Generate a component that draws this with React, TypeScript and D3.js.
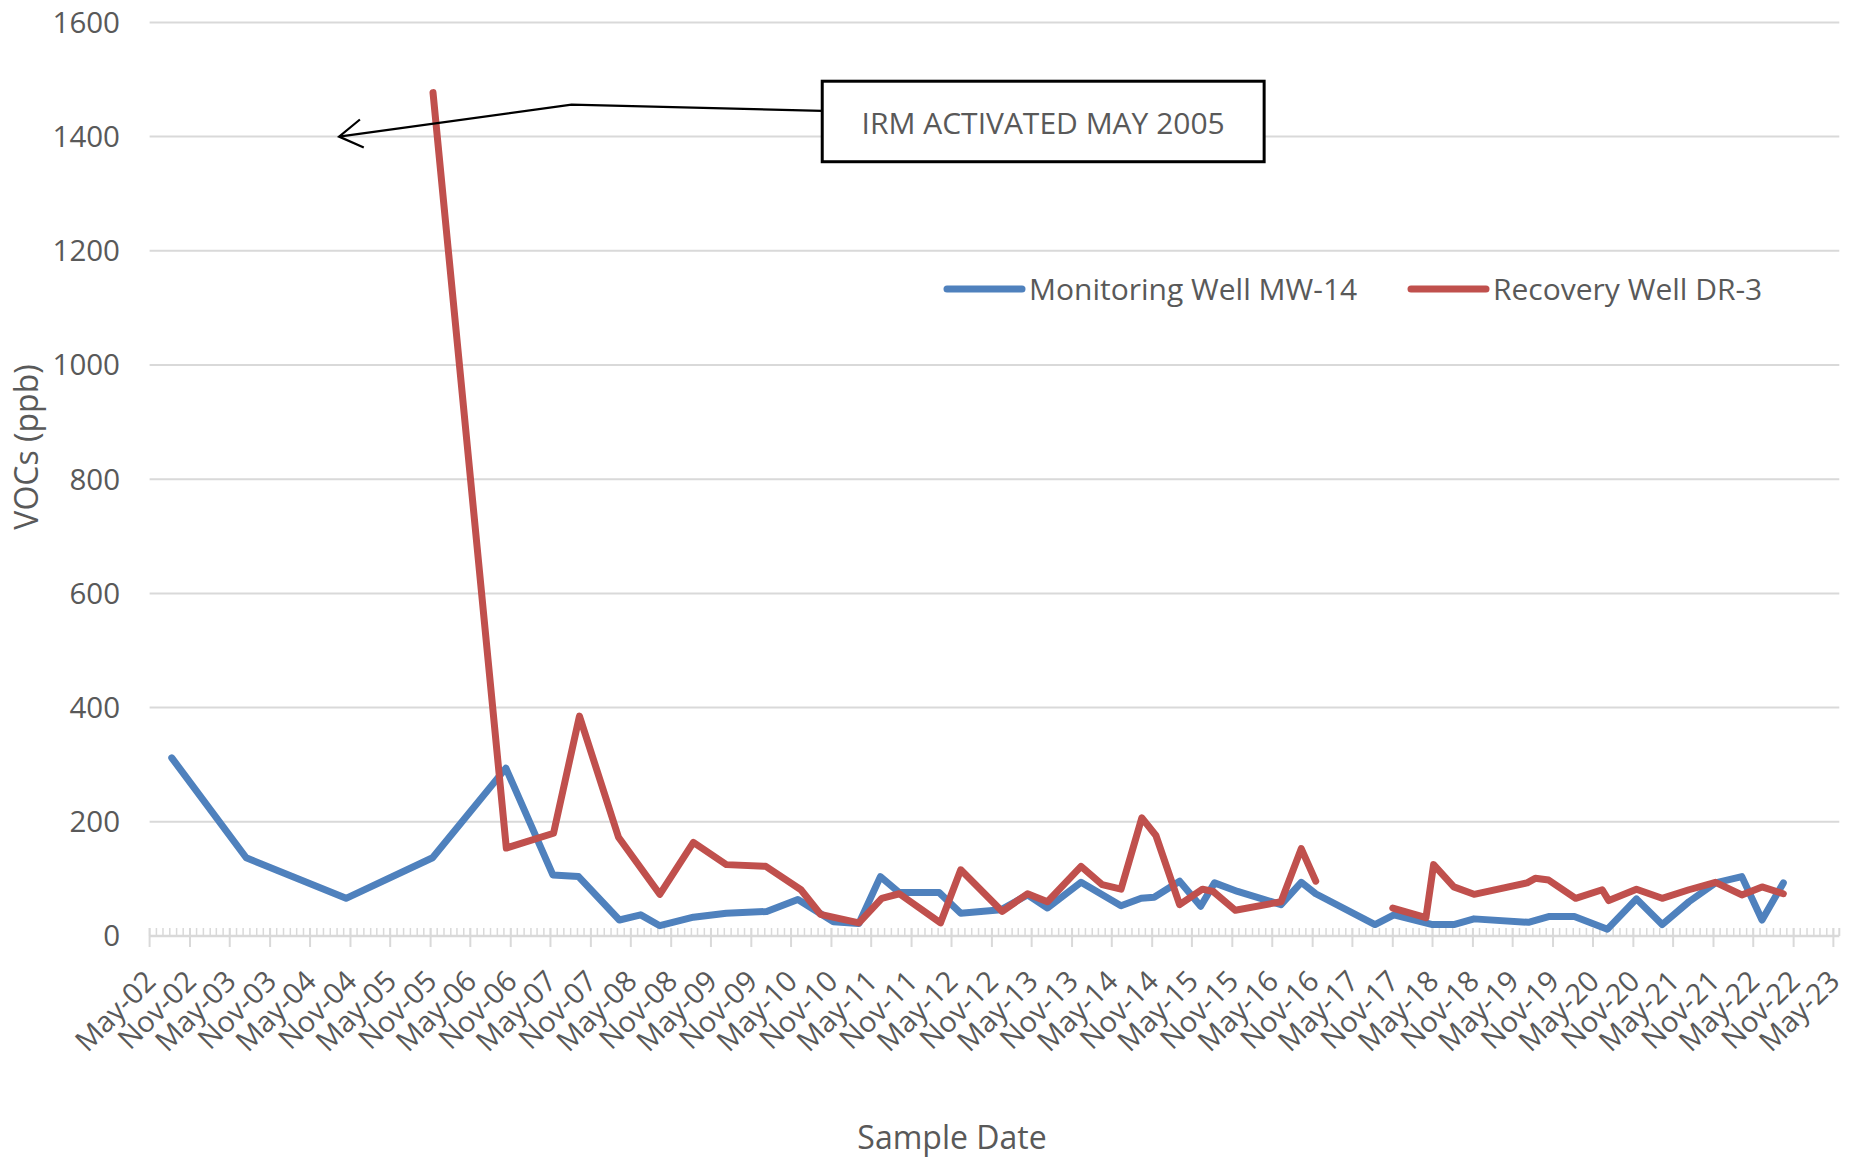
import React from "react";
import * as d3 from "d3";

// sample dates and VOC concentrations (ppb)
const mw14Dates = [
  "2002-08-10", "2003-07-15", "2004-10-12", "2005-11-10", "2006-10-10", "2007-05-12",
  "2007-09-06", "2008-03-10", "2008-06-15", "2008-09-10", "2009-02-10", "2009-07-10",
  "2010-01-10", "2010-06-01", "2010-11-10", "2011-03-06", "2011-06-12", "2011-09-06",
  "2012-03-06", "2012-06-12", "2012-12-12", "2013-04-12", "2013-07-12", "2013-12-12",
  "2014-06-12", "2014-09-12", "2014-11-10", "2015-03-06", "2015-06-10", "2015-08-12",
  "2015-11-25", "2016-06-10", "2016-09-10", "2016-11-15", "2017-08-12", "2017-11-06",
  "2018-05-01", "2018-08-06", "2018-11-06", "2019-07-12", "2019-10-12", "2020-02-06",
  "2020-07-06", "2020-11-15", "2021-03-12", "2021-07-12", "2021-11-10", "2022-03-10",
  "2022-06-10", "2022-09-15",
];
const mw14Values = [
  312, 137, 66, 137, 294, 107,
  104, 28, 37, 18, 33, 40,
  43, 64, 25, 22, 104, 76,
  76, 40, 46, 72, 49, 94,
  53, 66, 68, 96, 52, 93,
  78, 55, 94, 74, 20, 37,
  20, 20, 30, 24, 34, 34,
  12, 65, 20, 60, 93, 104,
  28, 93,
];

const dr3Dates = [
  "2005-11-12", "2006-10-12", "2007-05-15", "2007-09-10", "2008-03-06", "2008-09-10",
  "2009-02-10", "2009-07-10", "2010-01-06", "2010-06-15", "2010-09-12", "2011-03-06",
  "2011-06-18", "2011-09-06", "2012-03-12", "2012-06-12", "2012-12-18", "2013-04-12",
  "2013-07-12", "2013-12-12", "2014-03-18", "2014-06-12", "2014-09-15", "2014-11-18",
  "2015-03-06", "2015-06-18", "2015-08-06", "2015-11-15", "2016-06-10", "2016-09-10",
  "2016-11-15", "2017-05-01", "2017-11-01", "2018-04-01", "2018-05-06", "2018-08-06",
  "2018-11-06", "2019-07-06", "2019-08-12", "2019-10-12", "2020-02-12", "2020-06-12",
  "2020-07-12", "2020-11-15", "2021-03-12", "2021-07-12", "2021-11-10", "2022-03-10",
  "2022-06-10", "2022-09-15",
];
const dr3Values = [
  1477, 154, 180, 385, 173, 73,
  164, 125, 122, 81, 38, 23,
  66, 74, 23, 116, 43, 74,
  60, 122, 90, 82, 207, 176,
  55, 82, 78, 45, 60, 153,
  96, null, 49, 32, 125, 86,
  73, 93, 101, 98, 66, 81,
  62, 82, 66, 81, 94, 72,
  86, 74,
];

const seriesNames = ["Monitoring Well MW-14", "Recovery Well DR-3"];
const seriesColors = ["#4F81BD", "#C0504D"];
const yTicks = [0, 200, 400, 600, 800, 1000, 1200, 1400, 1600];

const annotationText = "IRM ACTIVATED MAY 2005";

const W = 1864;
const H = 1157;
const FONT = "'Open Sans', sans-serif";
const TEXT = "#595959";
const GRID = "#d9d9d9";

export default function App() {
  const parse = d3.timeParse("%Y-%m-%d");
  const x = d3
    .scaleTime()
    .domain([new Date(2002, 4, 1), new Date(2023, 4, 28)])
    .range([149.6, 1839.3]);
  const y = d3.scaleLinear().domain([0, 1600]).range([936, 22.4]);

  const majors = d3.timeMonth.range(new Date(2002, 4, 1), new Date(2023, 4, 2), 6);
  const minors = d3.timeMonth.range(new Date(2002, 4, 1), new Date(2023, 4, 29));
  const fmt = d3.timeFormat("%b-%y");

  const blue = mw14Dates.map((d, i) => ({ date: parse(d), value: mw14Values[i] }));
  const red = dr3Dates.map((d, i) => ({ date: parse(d), value: dr3Values[i] }));

  const line = d3
    .line()
    .defined((d) => d.value != null)
    .x((d) => x(d.date))
    .y((d) => y(d.value));

  const y0 = y(0);

  // callout: arrow tip points at ~1400 ppb, late 2004
  const tip = [x(new Date(2004, 8, 10)), y(1400)];
  const bend = [x(new Date(2007, 7, 5)), y(1456)];
  const boxL = x(new Date(2010, 8, 20));
  const boxR = x(new Date(2016, 2, 25));
  const boxT = y(1497);
  const boxB = y(1356);
  const lineEnd = [boxL, y(1445)];
  const ang = Math.atan2(bend[1] - tip[1], bend[0] - tip[0]);
  const head = [ang - 0.55, ang + 0.55].map((a) => [tip[0] + 27 * Math.cos(a), tip[1] + 27 * Math.sin(a)]);

  return (
    <svg
      width={W}
      height={H}
      style={{ position: "absolute", left: 0, top: 0, background: "#fff" }}
      fontFamily={FONT}
    >
      {/* gridlines */}
      {yTicks.slice(1).map((t) => (
        <line key={t} x1={x.range()[0]} x2={x.range()[1]} y1={y(t)} y2={y(t)} stroke={GRID} strokeWidth={2} />
      ))}
      {yTicks.map((t) => (
        <text key={"l" + t} x={120} y={y(t)} dy="0.35em" textAnchor="end" fontSize={29.5} fill={TEXT}>
          {t}
        </text>
      ))}

      {/* x axis */}
      <line x1={x.range()[0]} x2={x.range()[1]} y1={y0} y2={y0} stroke={GRID} strokeWidth={2.5} />
      {minors.map((d, i) => (
        <line key={"m" + i} x1={x(d)} x2={x(d)} y1={y0 - 8} y2={y0} stroke={GRID} strokeWidth={1.5} />
      ))}
      <line x1={x.range()[1]} x2={x.range()[1]} y1={y0 - 8} y2={y0} stroke={GRID} strokeWidth={2} />
      {majors.map((d, i) => (
        <g key={"M" + i}>
          <line x1={x(d)} x2={x(d)} y1={y0 - 8} y2={y0 + 11} stroke={GRID} strokeWidth={2} />
          <text
            transform={`translate(${x(d) + 8},${983}) rotate(-45)`}
            textAnchor="end"
            fontSize={29}
            fill={TEXT}
          >
            {fmt(d)}
          </text>
        </g>
      ))}

      {/* series */}
      <path d={line(blue)} fill="none" stroke={seriesColors[0]} strokeWidth={7} strokeLinejoin="round" strokeLinecap="round" />
      <path d={line(red)} fill="none" stroke={seriesColors[1]} strokeWidth={7} strokeLinejoin="round" strokeLinecap="round" />

      {/* legend */}
      {seriesNames.map((n, i) => {
        const lx = i === 0 ? 947 : 1411;
        return (
          <g key={n}>
            <line x1={lx} x2={lx + 75} y1={289} y2={289} stroke={seriesColors[i]} strokeWidth={7} strokeLinecap="round" />
            <text x={lx + 82} y={289} dy="0.35em" fontSize={30} fill={TEXT}>
              {n}
            </text>
          </g>
        );
      })}

      {/* callout */}
      <polyline
        points={[tip, bend, lineEnd].map((p) => p.join(",")).join(" ")}
        fill="none"
        stroke="#000"
        strokeWidth={2.2}
      />
      <polyline
        points={[head[0], tip, head[1]].map((p) => p.join(",")).join(" ")}
        fill="none"
        stroke="#000"
        strokeWidth={2.2}
      />
      <rect x={boxL} y={boxT} width={boxR - boxL} height={boxB - boxT} fill="#fff" stroke="#000" strokeWidth={3} />
      <text x={(boxL + boxR) / 2} y={(boxT + boxB) / 2 + 2} dy="0.35em" textAnchor="middle" fontSize={30} fill={TEXT}>
        {annotationText}
      </text>

      {/* axis titles */}
      <text x={952} y={1138} dy="0.35em" textAnchor="middle" fontSize={32} fill={TEXT}>
        Sample Date
      </text>
      <text transform="translate(27,447) rotate(-90)" dy="0.35em" textAnchor="middle" fontSize={32} fill={TEXT}>
        VOCs (ppb)
      </text>
    </svg>
  );
}
